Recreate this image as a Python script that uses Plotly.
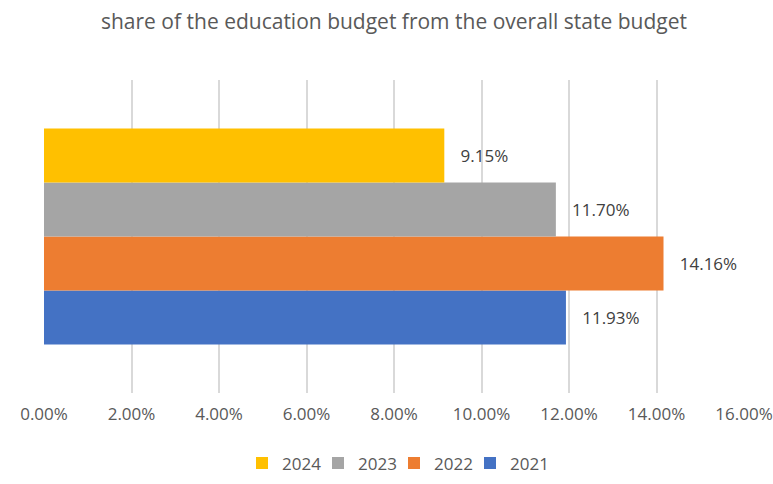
import plotly.graph_objects as go

# Share of education budget in the overall state budget, by year (%)
years = ["2021", "2022", "2023", "2024"]
shares = [11.93, 14.16, 11.70, 9.15]
colors = ["#4472C4", "#ED7D31", "#A5A5A5", "#FFC000"]
category = ["budget"]

tick_vals = [0, 2, 4, 6, 8, 10, 12, 14, 16]
tick_text = ["0.00%", "2.00%", "4.00%", "6.00%", "8.00%", "10.00%", "12.00%", "14.00%", "16.00%"]

FONT = "Open Sans"

fig = go.Figure()
for yr, val, col in zip(years, shares, colors):
    fig.add_trace(go.Bar(
        name=yr,
        y=category,
        x=[val],
        orientation="h",
        marker=dict(color=col, line=dict(width=0)),
        text=[f"{val:.2f}%"],
        texttemplate="   %{text}",
        textposition="outside",
        textfont=dict(family=FONT, size=17, color="#404040"),
        cliponaxis=False,
    ))

fig.update_layout(
    width=773,
    height=484,
    margin=dict(l=44, r=29, t=80, b=91, autoexpand=False),
    paper_bgcolor="white",
    plot_bgcolor="white",
    barmode="group",
    bargap=0.31,
    bargroupgap=0,
    title=dict(
        text="share of the education budget from the overall state budget",
        xref="paper", x=0.5, xanchor="center",
        y=0.955, yanchor="middle",
        font=dict(family=FONT, size=21, color="#595959"),
    ),
    xaxis=dict(
        range=[0, 16],
        tickvals=tick_vals,
        ticktext=tick_text,
        showgrid=True,
        gridcolor="#D9D9D9",
        gridwidth=2,
        zeroline=False,
        showline=False,
        automargin=False,
        ticks="outside",
        ticklen=6,
        tickcolor="rgba(0,0,0,0)",
        tickfont=dict(family=FONT, size=17, color="#595959"),
    ),
    yaxis=dict(
        range=[-0.5, 0.5],
        showticklabels=False,
        showgrid=False,
        zeroline=False,
        showline=False,
        automargin=False,
    ),
    legend=dict(
        orientation="h",
        traceorder="reversed",
        x=0.5, xanchor="center",
        y=-0.225, yanchor="middle",
        font=dict(family=FONT, size=17, color="#595959"),
        itemwidth=30,
        entrywidth=31,
        entrywidthmode="pixels",
    ),
    showlegend=True,
)

fig.write_html("out.html")
